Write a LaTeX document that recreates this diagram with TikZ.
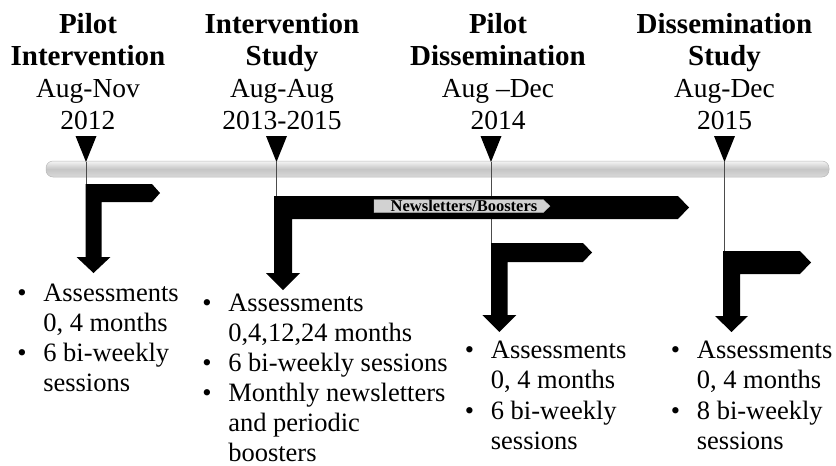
\documentclass[tikz,border=0pt]{standalone}
\usepackage{fontspec}
\setmainfont{Liberation Serif}
\newcommand\hb[1]{{\fontsize{29}{32.3}\selectfont\bfseries #1}}
\newcommand\bentarr[9]{%
  \fill[black] (#1,#3) -- (#5,#3) -- (#6,{(#3+#4)/2}) -- (#5,#4) -- ({#1+#2},#4)
    -- ({#1+#2},#7) -- ({#1+#2/2+#8},#7) -- ({#1+#2/2},#9) -- ({#1+#2/2-#8},#7)
    -- (#1,#7) -- cycle;}
\begin{document}
\begin{tikzpicture}[x=1pt,y=-1pt,
  tline/.style={draw=black!70, line width=0.8pt},
  hd/.style={anchor=base, inner sep=0pt, font=\fontsize{27.5}{32.3}\selectfont},
  lst/.style={anchor=base west, inner sep=0pt},
  lbl/.style={inner sep=0pt, font=\fontsize{16.5}{18}\selectfont\bfseries}]
\useasboundingbox (0,0) rectangle (836,466);

% time bar
\shade[top color=gray!8, bottom color=gray!30, middle color=gray!45,
       draw=gray!55, line width=0.5pt, rounded corners=7] (46,161) rectangle (829,177);

% markers
\foreach \n/\x in {1/86,2/276.5,3/491,4/724.5}{
  \coordinate (t\n) at (\x,162);
}
\coordinate (a1) at (86,184);
\coordinate (a2) at (276.5,196);
\coordinate (a3) at (491,243);
\coordinate (a4) at (724.5,251);
\foreach \n in {1,2,3,4}{
  \draw[tline] (t\n) -- (a\n);
}
\foreach \x in {86,276.5,491,724.5}{
  \fill[black] ({\x-10.5},136) -- ({\x+10.5},136) -- (\x,162) -- cycle;
}

% bent arrows
\bentarr{85.5}{16}{184}{202}{152}{160}{257}{17}{273}
\bentarr{274}{18}{196}{219}{678}{689}{273}{17}{290}
\bentarr{491}{16.5}{243}{262}{583}{592}{315}{17}{332}
\bentarr{723}{17}{251}{274}{800}{811}{316}{16.5}{332}

% label on the long arrow
\fill[gray!35, draw=gray!60, line width=0.4pt] (374,199.5) -- (543,199.5) -- (550,206.1) -- (543,212.7) -- (374,212.7) -- cycle;
\node[lbl, anchor=base] (nb) at (464,211.5) {Newsletters/Boosters};

% headings
\node[hd] (h1) at (88,33) {\begin{tabular}[t]{@{}c@{}}\hb{Pilot}\\\hb{Intervention}\\Aug-Nov\\2012\end{tabular}};
\node[hd] (h2) at (282,33) {\begin{tabular}[t]{@{}c@{}}\hb{Intervention}\\\hb{Study}\\Aug-Aug\\2013-2015\end{tabular}};
\node[hd] (h3) at (498,33) {\begin{tabular}[t]{@{}c@{}}\hb{Pilot}\\\hb{Dissemination}\\Aug –Dec\\2014\end{tabular}};
\node[hd] (h4) at (724.5,33) {\begin{tabular}[t]{@{}c@{}}\hb{Dissemination}\\\hb{Study}\\Aug-Dec\\2015\end{tabular}};

% lists
\node[lst, font=\fontsize{26.5}{30}\selectfont] (l1) at (17.1,301.7)
  {\begin{tabular}[t]{@{}c@{\hspace{16.7pt}}l@{}}\textbullet & Assessments\\ & 0, 4 months\\ \textbullet & 6 bi-weekly\\ & sessions\end{tabular}};
\node[lst, font=\fontsize{26.5}{30}\selectfont] (l2) at (202.1,311.7)
  {\begin{tabular}[t]{@{}c@{\hspace{16.7pt}}l@{}}\textbullet & Assessments\\ & 0,4,12,24 months\\ \textbullet & 6 bi-weekly sessions\\ \textbullet & Monthly newsletters\\ & and periodic\\ & boosters\end{tabular}};
\node[lst, font=\fontsize{26.5}{30.5}\selectfont] (l3) at (464.7,358.3)
  {\begin{tabular}[t]{@{}c@{\hspace{16.7pt}}l@{}}\textbullet & Assessments\\ & 0, 4 months\\ \textbullet & 6 bi-weekly\\ & sessions\end{tabular}};
\node[lst, font=\fontsize{26.5}{30.5}\selectfont] (l4) at (670.7,358.3)
  {\begin{tabular}[t]{@{}c@{\hspace{16.7pt}}l@{}}\textbullet & Assessments\\ & 0, 4 months\\ \textbullet & 8 bi-weekly\\ & sessions\end{tabular}};
\end{tikzpicture}
\end{document}
